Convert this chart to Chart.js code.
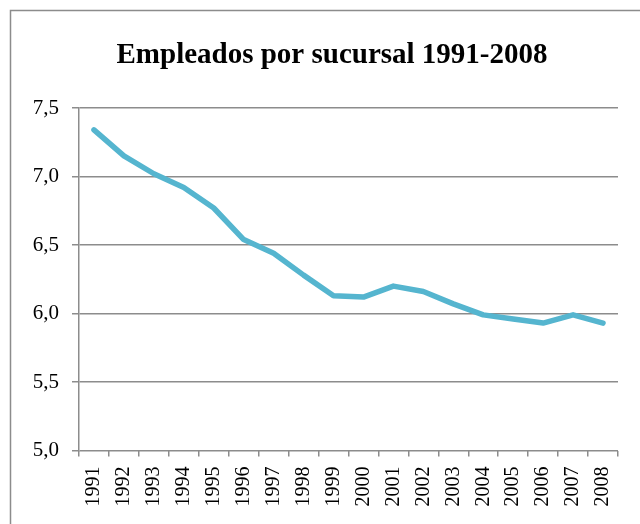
<!DOCTYPE html>
<html>
<head>
<meta charset="utf-8">
<script src="https://cdn.jsdelivr.net/npm/chart.js@4"></script>
<style>
    html, body { margin: 0; padding: 0; background: #fff; }
    #wrap { width: 640px; height: 524px; }
</style>
</head>
<body>
<div id="wrap"><canvas id="chart" width="640" height="524"></canvas></div>
<script>
const years = ["1991", "1992", "1993", "1994", "1995", "1996", "1997", "1998", "1999",
    "2000", "2001", "2002", "2003", "2004", "2005", "2006", "2007", "2008"];
const empleados = [7.34, 7.15, 7.02, 6.92, 6.77, 6.54, 6.44, 6.28, 6.13,
    6.12, 6.20, 6.16, 6.07, 5.99, 5.96, 5.93, 5.99, 5.93];
const yMin = 5.0;
const yMax = 7.5;
const yStep = 0.5;
const titulo = "Empleados por sucursal 1991-2008";

const gray = "#8c8c8c";
const serif = "'Liberation Serif', 'Times New Roman', serif";

// marco gris y titulo (el marco sale por la derecha y por abajo)
const frame = {
    id: "frame",
    beforeDraw(c) {
        const ctx = c.ctx;
        ctx.save();
        ctx.fillStyle = "#fff";
        ctx.fillRect(0, 0, c.width, c.height);
        ctx.strokeStyle = gray;
        ctx.lineWidth = 1.5;
        ctx.strokeRect(10.5, 10.5, 700, 700);
        ctx.fillStyle = "#000";
        ctx.font = "bold 29px " + serif;
        ctx.textAlign = "center";
        ctx.textBaseline = "middle";
        ctx.fillText(titulo, 332, 56);
        ctx.restore();
    }
};

const ctx = document.getElementById("chart");

new Chart(ctx, {
    type: "line",
    data: {
        labels: years,
        datasets: [{
            label: "Empleados por sucursal",
            data: empleados,
            borderColor: "#55B5CF",
            backgroundColor: "#55B5CF",
            borderWidth: 5.5,
            pointRadius: 0,
            tension: 0,
            borderJoinStyle: "round",
            borderCapStyle: "round"
        }]
    },
    options: {
        responsive: false,
        animation: false,
        layout: { padding: { left: 10, right: 22, top: 108, bottom: 0 } },
        plugins: {
            legend: { display: false },
            tooltip: { enabled: false },
            title: { display: false }
        },
        scales: {
            x: {
                offset: true,
                grid: {
                    offset: true,
                    drawOnChartArea: false,
                    drawTicks: true,
                    tickLength: 6,
                    color: gray,
                    lineWidth: 1.5
                },
                border: { display: false },
                ticks: {
                    autoSkip: false,
                    minRotation: 90,
                    maxRotation: 90,
                    padding: 10,
                    color: "#000",
                    font: { family: serif, size: 20 }
                },
                afterFit(scale) { scale.height = 73.5; }
            },
            y: {
                min: yMin,
                max: yMax,
                grid: {
                    color: gray,
                    lineWidth: 1.5,
                    tickLength: 7
                },
                border: { color: gray, width: 1.5 },
                ticks: {
                    stepSize: yStep,
                    padding: 13,
                    color: "#000",
                    font: { family: serif, size: 21 },
                    callback: v => v.toFixed(1).replace(".", ",")
                },
                afterFit(scale) { scale.width = 69; }
            }
        }
    },
    plugins: [frame]
});
</script>
</body>
</html>
